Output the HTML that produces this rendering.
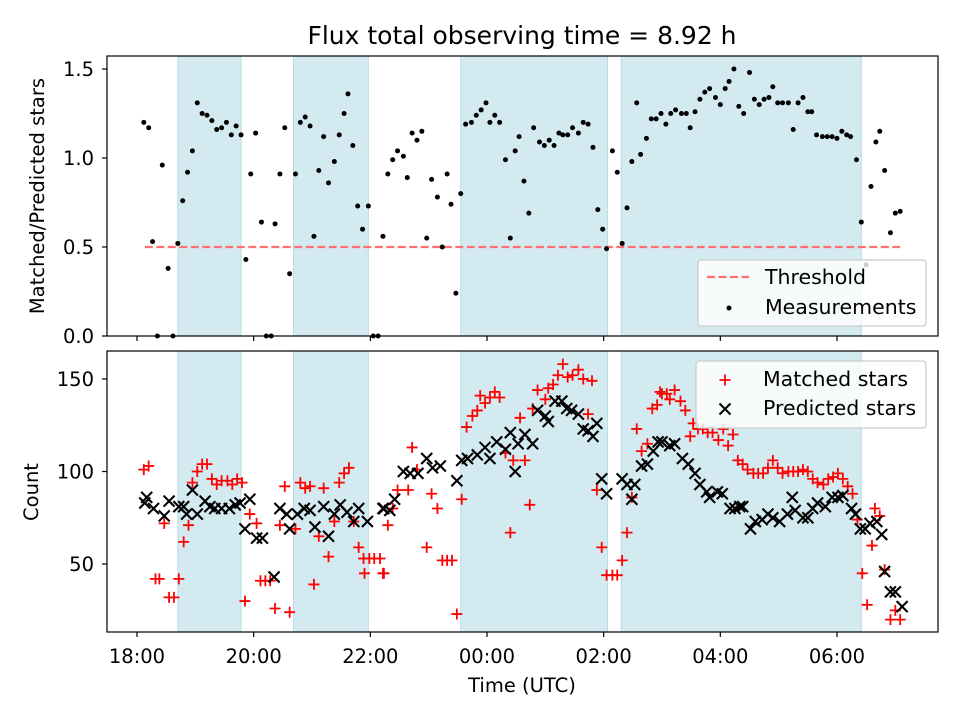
<!DOCTYPE html>
<html><head><meta charset="utf-8"><style>
html,body{margin:0;padding:0;background:#fff}
svg text{font-family:"DejaVu Sans","Liberation Sans",sans-serif;fill:#000}
</style></head><body>
<svg id="chart" width="960" height="720" viewBox="0 0 960 720" xmlns="http://www.w3.org/2000/svg">
<text x="522" y="44" font-size="25" text-anchor="middle">Flux total observing time = 8.92 h</text>
<g id="top"></g>
<g id="bot"></g>
</svg>
<script>
// minutes since 18:00 UTC
const bandStarts=[42,161,333,498];
const bandEnds=[107,238,484,745];
const xTickMinutes=[0,120,240,360,480,600,720];
const xTickLabels=["18:00","20:00","22:00","00:00","02:00","04:00","06:00"];
const ratioTicks=[0,0.5,1.0,1.5];
const ratioTickLabels=["0.0","0.5","1.0","1.5"];
const countTicks=[50,100,150];
const threshold=0.5;
const thresholdStart=8, thresholdEnd=785;
const measTimes=[7,12,16,21,26,32,37,42,47,52,57,62,67,72,77,82,87,92,97,102,107,112,117,122,128,133,138,142,147,152,157,163,168,173,178,182,187,192,197,203,208,213,217,222,227,232,238,243,248,253,258,263,268,274,278,283,288,293,298,303,309,314,319,323,328,333,338,344,349,354,359,363,368,373,379,384,389,393,398,403,408,414,419,424,429,434,438,443,448,454,459,464,469,474,479,483,489,494,499,504,509,514,518,524,529,534,539,544,549,554,560,565,569,574,579,584,589,595,600,605,609,614,619,624,630,635,640,645,650,654,659,664,670,675,680,685,690,694,699,705,710,715,720,725,730,734,740,745,750,755,760,764,769,775,780,785];
const measValues=[1.20,1.17,0.53,0,0.96,0.38,0,0.52,0.76,0.92,1.04,1.31,1.25,1.24,1.21,1.16,1.17,1.20,1.13,1.18,1.13,0.43,0.91,1.14,0.64,0,0,0.63,0.91,1.17,0.35,0.91,1.20,1.23,1.18,0.56,0.93,1.12,0.86,0.98,1.13,1.25,1.36,1.07,0.73,0.60,0.73,0,0,0.56,0.91,0.99,1.04,1.01,0.89,1.14,1.10,1.15,0.55,0.88,0.78,0.50,0.91,0.74,0.24,0.80,1.19,1.20,1.24,1.27,1.31,1.20,1.24,1.20,0.99,0.55,1.04,1.12,0.87,0.69,1.17,1.09,1.07,1.10,1.07,1.14,1.13,1.13,1.17,1.14,1.20,1.19,1.06,0.71,0.60,0.49,1.04,0.92,0.52,0.72,0.98,1.31,1.02,1.11,1.22,1.22,1.25,1.19,1.25,1.27,1.25,1.25,1.17,1.26,1.33,1.37,1.39,1.34,1.30,1.39,1.43,1.50,1.29,1.25,1.48,1.33,1.30,1.33,1.34,1.40,1.31,1.31,1.31,1.16,1.31,1.34,1.26,1.26,1.13,1.12,1.12,1.12,1.11,1.15,1.13,1.12,0.99,0.64,0.40,0.84,1.09,1.15,0.93,0.58,0.69,0.70];
const matchedTimes=[7,12,19,23,28,33,38,43,48,53,57,62,67,72,77,82,87,93,98,103,108,116,123,111,127,132,137,142,147,152,157,163,168,173,178,182,187,192,197,203,208,213,218,223,228,233,239,244,234,254,250,253,258,263,268,279,283,288,298,303,309,314,319,324,329,334,339,345,350,353,358,363,368,373,379,384,387,394,399,404,407,412,420,423,428,433,438,443,448,454,459,468,464,473,478,483,489,494,499,504,509,514,519,525,530,535,538,540,545,548,553,559,564,569,572,577,582,587,592,598,603,608,613,618,623,628,634,639,644,649,654,659,664,670,675,680,685,690,695,700,706,711,716,721,726,731,736,741,746,751,756,759,764,769,775,780,785];
const matchedValues=[101,103,42,42,72,32,32,42,62,71,94,100,104,104,96,93,95,95,93,96,94,77,72,30,41,41,41,26,71,92,24,69,94,91,92,39,65,91,54,73,94,99,102,73,59,53,53,53,45,45,53,45,71,80,90,90,113,101,59,88,80,52,52,52,23,85,124,130,133,141,137,140,143,140,110,67,106,129,106,82,134,144,139,145,147,152,158,151,152,155,150,149,131,90,59,44,44,44,52,67,86,123,111,115,134,136,143,142,142,139,144,138,133,119,126,123,123,121,121,117,123,114,120,106,104,101,99,99,99,102,106,102,99,100,100,100,101,100,96,94,93,96,97,99,96,92,88,74,45,28,60,80,76,47,20,25,20];
const predTimes=[8,10,17,28,33,43,48,51,57,62,70,75,80,87,95,101,106,111,116,123,129,141,147,154,157,165,172,178,183,192,197,203,209,216,223,228,237,253,254,260,265,274,281,289,298,304,312,329,334,340,350,358,363,370,379,384,389,392,399,407,412,420,423,430,437,442,447,454,459,464,469,473,478,483,499,504,509,512,519,525,531,536,540,548,553,561,567,574,579,586,589,597,602,610,615,620,623,631,636,643,649,654,661,669,674,677,685,690,695,700,708,715,721,726,735,739,744,749,754,761,766,769,775,780,787];
const predValues=[83,86,80,76,84,81,81,77,90,77,84,81,80,80,80,82,83,69,85,64,64,43,80,77,69,77,80,79,70,81,65,77,82,78,73,80,73,80,80,79,85,100,99,99,107,102,103,95,106,107,109,113,107,116,112,121,100,115,120,115,133,130,127,138,138,134,133,131,123,122,119,126,96,88,96,93,85,93,103,104,111,116,116,114,115,107,104,99,93,89,86,89,88,80,80,81,81,69,73,74,77,75,73,77,86,79,75,75,80,83,81,86,86,87,80,77,69,69,72,73,66,46,35,35,27];

const NS="http://www.w3.org/2000/svg";
const L=107,R=938;
const xS=m=>L+(m+30.86)*(R-L)/(823.9+30.86);
const topP={t:56,b:336,min:0,max:1.573};
const botP={t:351,b:632,min:13.3,max:165.1};
const yS=(p,v)=>p.b-(v-p.min)*(p.b-p.t)/(p.max-p.min);
function mk(tag,attrs,parent){const e=document.createElementNS(NS,tag);for(const k in attrs)e.setAttribute(k,attrs[k]);parent.appendChild(e);return e;}

function panel(g,p,isTop){
  for(let i=0;i<bandStarts.length;i++){
    const r=mk('rect',{x:xS(bandStarts[i]),y:p.t,width:xS(bandEnds[i])-xS(bandStarts[i]),height:p.b-p.t,fill:'#d4eaf1',stroke:'#b9dbe6','stroke-width':1},g);
    
    
  }
  for(let i=0;i<xTickMinutes.length;i++){
    const x=xS(xTickMinutes[i]);
    const t=mk('line',{x1:x,x2:x,y1:p.b,y2:p.b+5,stroke:'#000','stroke-width':1.2},g);
    
    
    if(!isTop){
      const tx=mk('text',{x:x,y:p.b+31,'font-size':19.5,'text-anchor':'middle'},g);
      tx.textContent=xTickLabels[i];
      
      
    }
  }
  const ticks=isTop?ratioTicks:countTicks;
  ticks.forEach((v,i)=>{
    const y=yS(p,v);
    const t=mk('line',{x1:L-5,x2:L,y1:y,y2:y,stroke:'#000','stroke-width':1.2},g);
    
    
    const tx=mk('text',{x:L-13,y:y+7,'font-size':19.5,'text-anchor':'end'},g);
    tx.textContent=isTop?ratioTickLabels[i]:String(v);
    
    
  });
}

const gt=document.getElementById('top');
panel(gt,topP,true);
const th=mk('line',{x1:xS(thresholdStart),x2:xS(thresholdEnd),y1:yS(topP,threshold),y2:yS(topP,threshold),stroke:'#ff7070','stroke-width':2.2,'stroke-dasharray':'8,3.5'},gt);


measTimes.forEach((m,i)=>{
  const c=mk('circle',{cx:xS(m),cy:yS(topP,measValues[i]),r:2.5,fill:'#000'},gt);
  
  
});
mk('rect',{x:L,y:topP.t,width:R-L,height:topP.b-topP.t,fill:'none',stroke:'#000','stroke-width':1.2},gt);
const tl=mk('text',{x:0,y:0,'font-size':19.5,'text-anchor':'middle',transform:'translate(44,196) rotate(-90)'},gt);
tl.textContent='Matched/Predicted stars';


const lg1=mk('g',{},gt);


mk('rect',{x:698,y:260,width:228,height:66,rx:3,fill:'#fff','fill-opacity':0.8,stroke:'#ccc','stroke-width':1.3},lg1);
mk('line',{x1:707,x2:749,y1:277,y2:277,stroke:'#ff7070','stroke-width':2.2,'stroke-dasharray':'8,3.5'},lg1);
let e=mk('text',{x:765,y:284,'font-size':20.5},lg1);e.textContent='Threshold';
mk('circle',{cx:729,cy:308,r:2.5,fill:'#000'},lg1);
e=mk('text',{x:765,y:314,'font-size':20.5},lg1);e.textContent='Measurements';

const gb=document.getElementById('bot');
panel(gb,botP,false);
function plus(x,y,g){const p=mk('path',{d:`M${x-5.5},${y}H${x+5.5}M${x},${y-5.5}V${y+5.5}`,stroke:'#ff0000','stroke-width':1.8,fill:'none'},g);return p;}
function cross(x,y,g){const p=mk('path',{d:`M${x-5.5},${y-5.5}L${x+5.5},${y+5.5}M${x-5.5},${y+5.5}L${x+5.5},${y-5.5}`,stroke:'#000','stroke-width':2.1,fill:'none'},g);return p;}
matchedTimes.forEach((m,i)=>{
  const p=plus(xS(m),yS(botP,matchedValues[i]),gb);
  
  
});
predTimes.forEach((m,i)=>{
  const p=cross(xS(m),yS(botP,predValues[i]),gb);
  
  
});
mk('rect',{x:L,y:botP.t,width:R-L,height:botP.b-botP.t,fill:'none',stroke:'#000','stroke-width':1.2},gb);
const bl=mk('text',{x:0,y:0,'font-size':19.5,'text-anchor':'middle',transform:'translate(38,492) rotate(-90)'},gb);
bl.textContent='Count';


const xl=mk('text',{x:522,y:692,'font-size':19.5,'text-anchor':'middle'},gb);
xl.textContent='Time (UTC)';


const lg2=mk('g',{},gb);


mk('rect',{x:696,y:361,width:230,height:67,rx:3,fill:'#fff','fill-opacity':0.8,stroke:'#ccc','stroke-width':1.3},lg2);
plus(725,380,lg2);
e=mk('text',{x:763,y:386,'font-size':20.5},lg2);e.textContent='Matched stars';
cross(725,409,lg2);
e=mk('text',{x:763,y:415,'font-size':20.5},lg2);e.textContent='Predicted stars';
</script>
</body></html>
